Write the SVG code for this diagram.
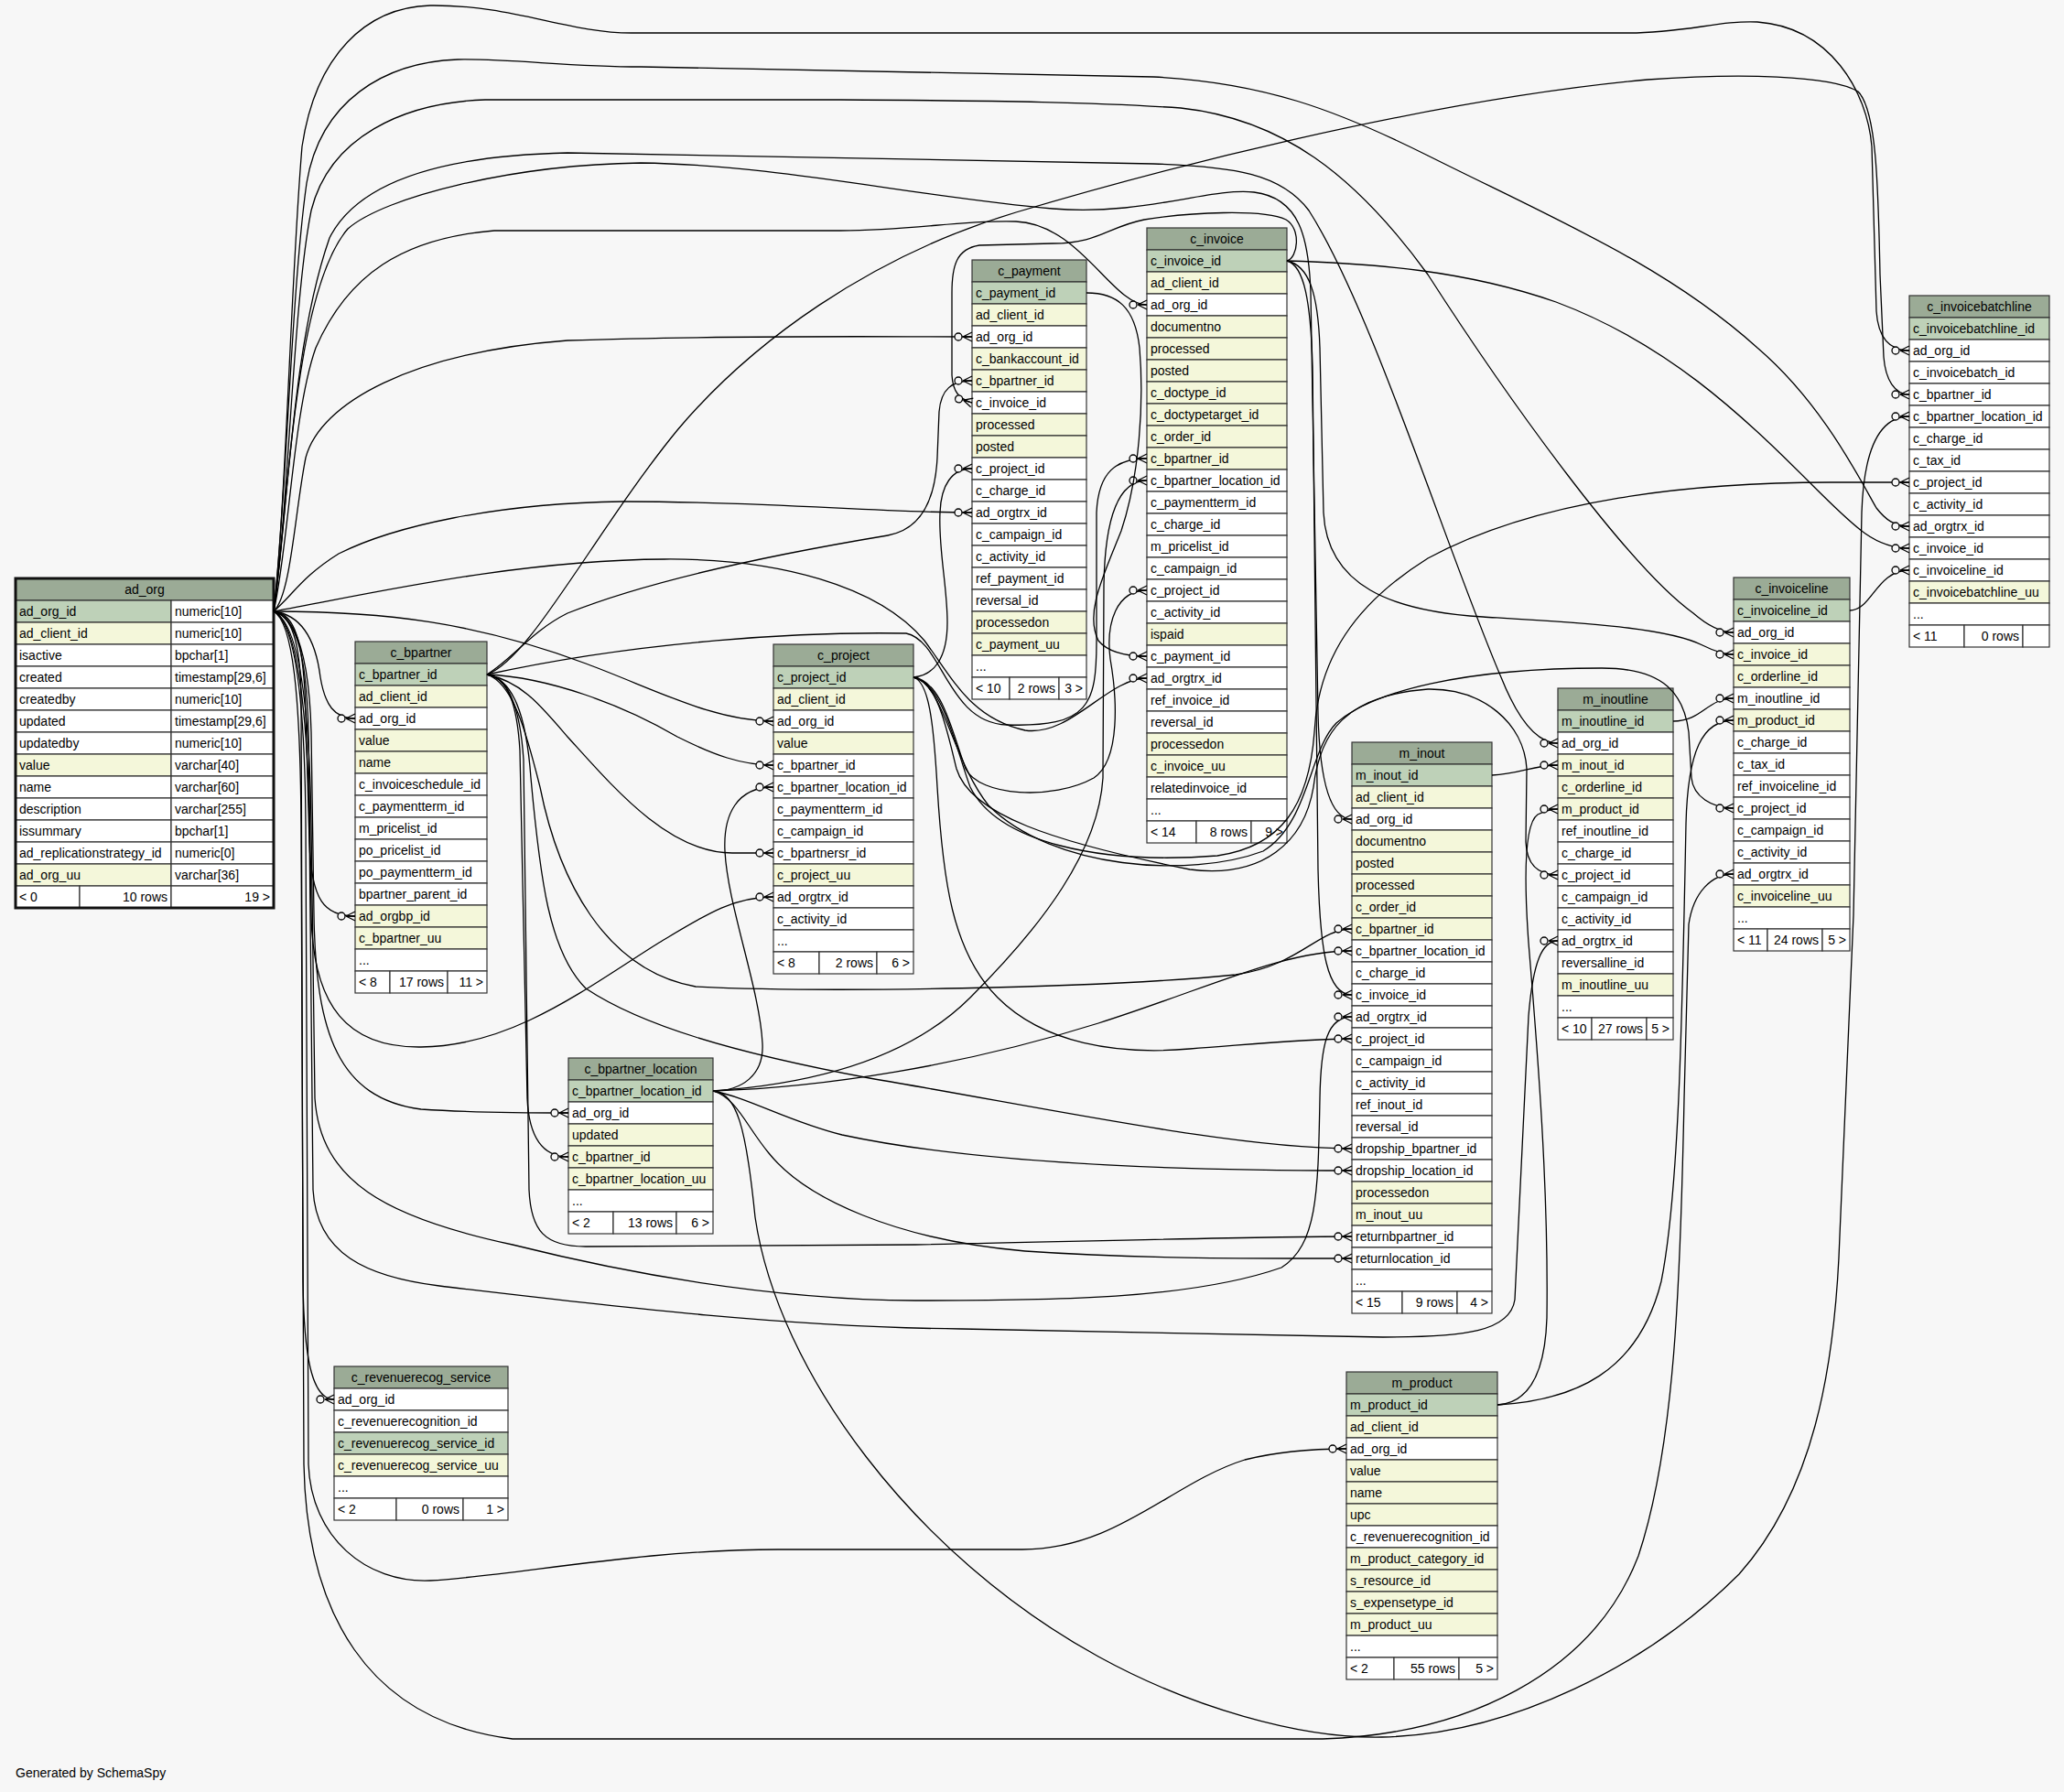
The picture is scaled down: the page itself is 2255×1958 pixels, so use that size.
<svg xmlns="http://www.w3.org/2000/svg" width="2255" height="1958" viewBox="0 0 2255 1958">
<defs>
<style>
text{font-family:"Liberation Sans",Arial,Helvetica,sans-serif;font-size:14px;fill:#000}
.c{text-anchor:middle}
.r{text-anchor:end}
.hd{fill:#9bab96;stroke:#333;stroke-width:1.2}
.pk{fill:#bed1b8;stroke:#333;stroke-width:1.2}
.ix{fill:#f4f7da;stroke:#333;stroke-width:1.2}
.wh{fill:#ffffff;stroke:#333;stroke-width:1.2}
.e{fill:none;stroke:#000;stroke-width:1.3;marker-end:url(#crow)}
</style>
<marker id="crow" viewBox="-22 -8 24 16" refX="0" refY="0" markerWidth="24" markerHeight="16" markerUnits="userSpaceOnUse" orient="auto">
<path d="M-10,0 L0,-5 M-10,0 L0,5 M-10,0 L0,0" fill="none" stroke="#000" stroke-width="1.3"/>
<circle cx="-15" cy="0" r="4" fill="#f7f7f7" stroke="#000" stroke-width="1.3"/>
</marker>
</defs>
<rect x="0" y="0" width="2255" height="1958" fill="#f7f7f7"/>

<g id="ad_org">
<rect class="hd" x="17" y="632" width="282" height="24"/><text class="c" x="158" y="649">ad_org</text>
<rect class="pk" x="17" y="656" width="170" height="24"/><rect class="wh" x="187" y="656" width="112" height="24"/><text x="21" y="673">ad_org_id</text><text x="191" y="673">numeric[10]</text>
<rect class="ix" x="17" y="680" width="170" height="24"/><rect class="wh" x="187" y="680" width="112" height="24"/><text x="21" y="697">ad_client_id</text><text x="191" y="697">numeric[10]</text>
<rect class="wh" x="17" y="704" width="170" height="24"/><rect class="wh" x="187" y="704" width="112" height="24"/><text x="21" y="721">isactive</text><text x="191" y="721">bpchar[1]</text>
<rect class="wh" x="17" y="728" width="170" height="24"/><rect class="wh" x="187" y="728" width="112" height="24"/><text x="21" y="745">created</text><text x="191" y="745">timestamp[29,6]</text>
<rect class="wh" x="17" y="752" width="170" height="24"/><rect class="wh" x="187" y="752" width="112" height="24"/><text x="21" y="769">createdby</text><text x="191" y="769">numeric[10]</text>
<rect class="wh" x="17" y="776" width="170" height="24"/><rect class="wh" x="187" y="776" width="112" height="24"/><text x="21" y="793">updated</text><text x="191" y="793">timestamp[29,6]</text>
<rect class="wh" x="17" y="800" width="170" height="24"/><rect class="wh" x="187" y="800" width="112" height="24"/><text x="21" y="817">updatedby</text><text x="191" y="817">numeric[10]</text>
<rect class="ix" x="17" y="824" width="170" height="24"/><rect class="wh" x="187" y="824" width="112" height="24"/><text x="21" y="841">value</text><text x="191" y="841">varchar[40]</text>
<rect class="wh" x="17" y="848" width="170" height="24"/><rect class="wh" x="187" y="848" width="112" height="24"/><text x="21" y="865">name</text><text x="191" y="865">varchar[60]</text>
<rect class="wh" x="17" y="872" width="170" height="24"/><rect class="wh" x="187" y="872" width="112" height="24"/><text x="21" y="889">description</text><text x="191" y="889">varchar[255]</text>
<rect class="wh" x="17" y="896" width="170" height="24"/><rect class="wh" x="187" y="896" width="112" height="24"/><text x="21" y="913">issummary</text><text x="191" y="913">bpchar[1]</text>
<rect class="wh" x="17" y="920" width="170" height="24"/><rect class="wh" x="187" y="920" width="112" height="24"/><text x="21" y="937">ad_replicationstrategy_id</text><text x="191" y="937">numeric[0]</text>
<rect class="ix" x="17" y="944" width="170" height="24"/><rect class="wh" x="187" y="944" width="112" height="24"/><text x="21" y="961">ad_org_uu</text><text x="191" y="961">varchar[36]</text>
<rect class="wh" x="17" y="968" width="70" height="24"/><rect class="wh" x="87" y="968" width="100" height="24"/><rect class="wh" x="187" y="968" width="112" height="24"/>
<text x="21" y="985">&lt; 0</text><text class="r" x="183" y="985">10 rows</text><text class="r" x="295" y="985">19 &gt;</text>
<rect x="17" y="632" width="282" height="360" fill="none" stroke="#111" stroke-width="3"/>
</g>

<g id="c_bpartner">
<rect class="hd" x="388" y="701" width="144" height="24"/><text class="c" x="460" y="718">c_bpartner</text>
<rect class="pk" x="388" y="725" width="144" height="24"/><text x="392" y="742">c_bpartner_id</text>
<rect class="ix" x="388" y="749" width="144" height="24"/><text x="392" y="766">ad_client_id</text>
<rect class="wh" x="388" y="773" width="144" height="24"/><text x="392" y="790">ad_org_id</text>
<rect class="ix" x="388" y="797" width="144" height="24"/><text x="392" y="814">value</text>
<rect class="ix" x="388" y="821" width="144" height="24"/><text x="392" y="838">name</text>
<rect class="wh" x="388" y="845" width="144" height="24"/><text x="392" y="862">c_invoiceschedule_id</text>
<rect class="wh" x="388" y="869" width="144" height="24"/><text x="392" y="886">c_paymentterm_id</text>
<rect class="wh" x="388" y="893" width="144" height="24"/><text x="392" y="910">m_pricelist_id</text>
<rect class="wh" x="388" y="917" width="144" height="24"/><text x="392" y="934">po_pricelist_id</text>
<rect class="wh" x="388" y="941" width="144" height="24"/><text x="392" y="958">po_paymentterm_id</text>
<rect class="wh" x="388" y="965" width="144" height="24"/><text x="392" y="982">bpartner_parent_id</text>
<rect class="ix" x="388" y="989" width="144" height="24"/><text x="392" y="1006">ad_orgbp_id</text>
<rect class="ix" x="388" y="1013" width="144" height="24"/><text x="392" y="1030">c_bpartner_uu</text>
<rect class="wh" x="388" y="1037" width="144" height="24"/><text x="392" y="1054">...</text>
<rect class="wh" x="388" y="1061" width="38" height="24"/><rect class="wh" x="426" y="1061" width="63" height="24"/><rect class="wh" x="489" y="1061" width="43" height="24"/>
<text x="392" y="1078">&lt; 8</text><text class="r" x="485" y="1078">17 rows</text><text class="r" x="528" y="1078">11 &gt;</text>
</g>

<g id="c_bpartner_location">
<rect class="hd" x="621" y="1156" width="158" height="24"/><text class="c" x="700" y="1173">c_bpartner_location</text>
<rect class="pk" x="621" y="1180" width="158" height="24"/><text x="625" y="1197">c_bpartner_location_id</text>
<rect class="wh" x="621" y="1204" width="158" height="24"/><text x="625" y="1221">ad_org_id</text>
<rect class="ix" x="621" y="1228" width="158" height="24"/><text x="625" y="1245">updated</text>
<rect class="ix" x="621" y="1252" width="158" height="24"/><text x="625" y="1269">c_bpartner_id</text>
<rect class="ix" x="621" y="1276" width="158" height="24"/><text x="625" y="1293">c_bpartner_location_uu</text>
<rect class="wh" x="621" y="1300" width="158" height="24"/><text x="625" y="1317">...</text>
<rect class="wh" x="621" y="1324" width="49" height="24"/><rect class="wh" x="670" y="1324" width="69" height="24"/><rect class="wh" x="739" y="1324" width="40" height="24"/>
<text x="625" y="1341">&lt; 2</text><text class="r" x="735" y="1341">13 rows</text><text class="r" x="775" y="1341">6 &gt;</text>
</g>

<g id="c_revenuerecog_service">
<rect class="hd" x="365" y="1493" width="190" height="24"/><text class="c" x="460" y="1510">c_revenuerecog_service</text>
<rect class="wh" x="365" y="1517" width="190" height="24"/><text x="369" y="1534">ad_org_id</text>
<rect class="wh" x="365" y="1541" width="190" height="24"/><text x="369" y="1558">c_revenuerecognition_id</text>
<rect class="pk" x="365" y="1565" width="190" height="24"/><text x="369" y="1582">c_revenuerecog_service_id</text>
<rect class="ix" x="365" y="1589" width="190" height="24"/><text x="369" y="1606">c_revenuerecog_service_uu</text>
<rect class="wh" x="365" y="1613" width="190" height="24"/><text x="369" y="1630">...</text>
<rect class="wh" x="365" y="1637" width="68" height="24"/><rect class="wh" x="433" y="1637" width="73" height="24"/><rect class="wh" x="506" y="1637" width="49" height="24"/>
<text x="369" y="1654">&lt; 2</text><text class="r" x="502" y="1654">0 rows</text><text class="r" x="551" y="1654">1 &gt;</text>
</g>

<g id="c_project">
<rect class="hd" x="845" y="704" width="153" height="24"/><text class="c" x="921.5" y="721">c_project</text>
<rect class="pk" x="845" y="728" width="153" height="24"/><text x="849" y="745">c_project_id</text>
<rect class="ix" x="845" y="752" width="153" height="24"/><text x="849" y="769">ad_client_id</text>
<rect class="wh" x="845" y="776" width="153" height="24"/><text x="849" y="793">ad_org_id</text>
<rect class="ix" x="845" y="800" width="153" height="24"/><text x="849" y="817">value</text>
<rect class="wh" x="845" y="824" width="153" height="24"/><text x="849" y="841">c_bpartner_id</text>
<rect class="wh" x="845" y="848" width="153" height="24"/><text x="849" y="865">c_bpartner_location_id</text>
<rect class="wh" x="845" y="872" width="153" height="24"/><text x="849" y="889">c_paymentterm_id</text>
<rect class="wh" x="845" y="896" width="153" height="24"/><text x="849" y="913">c_campaign_id</text>
<rect class="wh" x="845" y="920" width="153" height="24"/><text x="849" y="937">c_bpartnersr_id</text>
<rect class="ix" x="845" y="944" width="153" height="24"/><text x="849" y="961">c_project_uu</text>
<rect class="wh" x="845" y="968" width="153" height="24"/><text x="849" y="985">ad_orgtrx_id</text>
<rect class="wh" x="845" y="992" width="153" height="24"/><text x="849" y="1009">c_activity_id</text>
<rect class="wh" x="845" y="1016" width="153" height="24"/><text x="849" y="1033">...</text>
<rect class="wh" x="845" y="1040" width="50" height="24"/><rect class="wh" x="895" y="1040" width="63" height="24"/><rect class="wh" x="958" y="1040" width="40" height="24"/>
<text x="849" y="1057">&lt; 8</text><text class="r" x="954" y="1057">2 rows</text><text class="r" x="994" y="1057">6 &gt;</text>
</g>

<g id="c_payment">
<rect class="hd" x="1062" y="284" width="125" height="24"/><text class="c" x="1124.5" y="301">c_payment</text>
<rect class="pk" x="1062" y="308" width="125" height="24"/><text x="1066" y="325">c_payment_id</text>
<rect class="ix" x="1062" y="332" width="125" height="24"/><text x="1066" y="349">ad_client_id</text>
<rect class="wh" x="1062" y="356" width="125" height="24"/><text x="1066" y="373">ad_org_id</text>
<rect class="ix" x="1062" y="380" width="125" height="24"/><text x="1066" y="397">c_bankaccount_id</text>
<rect class="ix" x="1062" y="404" width="125" height="24"/><text x="1066" y="421">c_bpartner_id</text>
<rect class="wh" x="1062" y="428" width="125" height="24"/><text x="1066" y="445">c_invoice_id</text>
<rect class="ix" x="1062" y="452" width="125" height="24"/><text x="1066" y="469">processed</text>
<rect class="ix" x="1062" y="476" width="125" height="24"/><text x="1066" y="493">posted</text>
<rect class="wh" x="1062" y="500" width="125" height="24"/><text x="1066" y="517">c_project_id</text>
<rect class="wh" x="1062" y="524" width="125" height="24"/><text x="1066" y="541">c_charge_id</text>
<rect class="wh" x="1062" y="548" width="125" height="24"/><text x="1066" y="565">ad_orgtrx_id</text>
<rect class="wh" x="1062" y="572" width="125" height="24"/><text x="1066" y="589">c_campaign_id</text>
<rect class="wh" x="1062" y="596" width="125" height="24"/><text x="1066" y="613">c_activity_id</text>
<rect class="wh" x="1062" y="620" width="125" height="24"/><text x="1066" y="637">ref_payment_id</text>
<rect class="wh" x="1062" y="644" width="125" height="24"/><text x="1066" y="661">reversal_id</text>
<rect class="ix" x="1062" y="668" width="125" height="24"/><text x="1066" y="685">processedon</text>
<rect class="ix" x="1062" y="692" width="125" height="24"/><text x="1066" y="709">c_payment_uu</text>
<rect class="wh" x="1062" y="716" width="125" height="24"/><text x="1066" y="733">...</text>
<rect class="wh" x="1062" y="740" width="41" height="24"/><rect class="wh" x="1103" y="740" width="54" height="24"/><rect class="wh" x="1157" y="740" width="30" height="24"/>
<text x="1066" y="757">&lt; 10</text><text class="r" x="1153" y="757">2 rows</text><text class="r" x="1183" y="757">3 &gt;</text>
</g>

<g id="c_invoice">
<rect class="hd" x="1253" y="249" width="153" height="24"/><text class="c" x="1329.5" y="266">c_invoice</text>
<rect class="pk" x="1253" y="273" width="153" height="24"/><text x="1257" y="290">c_invoice_id</text>
<rect class="ix" x="1253" y="297" width="153" height="24"/><text x="1257" y="314">ad_client_id</text>
<rect class="wh" x="1253" y="321" width="153" height="24"/><text x="1257" y="338">ad_org_id</text>
<rect class="ix" x="1253" y="345" width="153" height="24"/><text x="1257" y="362">documentno</text>
<rect class="ix" x="1253" y="369" width="153" height="24"/><text x="1257" y="386">processed</text>
<rect class="ix" x="1253" y="393" width="153" height="24"/><text x="1257" y="410">posted</text>
<rect class="ix" x="1253" y="417" width="153" height="24"/><text x="1257" y="434">c_doctype_id</text>
<rect class="ix" x="1253" y="441" width="153" height="24"/><text x="1257" y="458">c_doctypetarget_id</text>
<rect class="ix" x="1253" y="465" width="153" height="24"/><text x="1257" y="482">c_order_id</text>
<rect class="ix" x="1253" y="489" width="153" height="24"/><text x="1257" y="506">c_bpartner_id</text>
<rect class="wh" x="1253" y="513" width="153" height="24"/><text x="1257" y="530">c_bpartner_location_id</text>
<rect class="wh" x="1253" y="537" width="153" height="24"/><text x="1257" y="554">c_paymentterm_id</text>
<rect class="wh" x="1253" y="561" width="153" height="24"/><text x="1257" y="578">c_charge_id</text>
<rect class="wh" x="1253" y="585" width="153" height="24"/><text x="1257" y="602">m_pricelist_id</text>
<rect class="wh" x="1253" y="609" width="153" height="24"/><text x="1257" y="626">c_campaign_id</text>
<rect class="wh" x="1253" y="633" width="153" height="24"/><text x="1257" y="650">c_project_id</text>
<rect class="wh" x="1253" y="657" width="153" height="24"/><text x="1257" y="674">c_activity_id</text>
<rect class="ix" x="1253" y="681" width="153" height="24"/><text x="1257" y="698">ispaid</text>
<rect class="wh" x="1253" y="705" width="153" height="24"/><text x="1257" y="722">c_payment_id</text>
<rect class="wh" x="1253" y="729" width="153" height="24"/><text x="1257" y="746">ad_orgtrx_id</text>
<rect class="wh" x="1253" y="753" width="153" height="24"/><text x="1257" y="770">ref_invoice_id</text>
<rect class="wh" x="1253" y="777" width="153" height="24"/><text x="1257" y="794">reversal_id</text>
<rect class="ix" x="1253" y="801" width="153" height="24"/><text x="1257" y="818">processedon</text>
<rect class="ix" x="1253" y="825" width="153" height="24"/><text x="1257" y="842">c_invoice_uu</text>
<rect class="wh" x="1253" y="849" width="153" height="24"/><text x="1257" y="866">relatedinvoice_id</text>
<rect class="wh" x="1253" y="873" width="153" height="24"/><text x="1257" y="890">...</text>
<rect class="wh" x="1253" y="897" width="54" height="24"/><rect class="wh" x="1307" y="897" width="60" height="24"/><rect class="wh" x="1367" y="897" width="39" height="24"/>
<text x="1257" y="914">&lt; 14</text><text class="r" x="1363" y="914">8 rows</text><text class="r" x="1402" y="914">9 &gt;</text>
</g>

<g id="m_inout">
<rect class="hd" x="1477" y="811" width="153" height="24"/><text class="c" x="1553.5" y="828">m_inout</text>
<rect class="pk" x="1477" y="835" width="153" height="24"/><text x="1481" y="852">m_inout_id</text>
<rect class="ix" x="1477" y="859" width="153" height="24"/><text x="1481" y="876">ad_client_id</text>
<rect class="wh" x="1477" y="883" width="153" height="24"/><text x="1481" y="900">ad_org_id</text>
<rect class="ix" x="1477" y="907" width="153" height="24"/><text x="1481" y="924">documentno</text>
<rect class="ix" x="1477" y="931" width="153" height="24"/><text x="1481" y="948">posted</text>
<rect class="ix" x="1477" y="955" width="153" height="24"/><text x="1481" y="972">processed</text>
<rect class="ix" x="1477" y="979" width="153" height="24"/><text x="1481" y="996">c_order_id</text>
<rect class="ix" x="1477" y="1003" width="153" height="24"/><text x="1481" y="1020">c_bpartner_id</text>
<rect class="wh" x="1477" y="1027" width="153" height="24"/><text x="1481" y="1044">c_bpartner_location_id</text>
<rect class="wh" x="1477" y="1051" width="153" height="24"/><text x="1481" y="1068">c_charge_id</text>
<rect class="wh" x="1477" y="1075" width="153" height="24"/><text x="1481" y="1092">c_invoice_id</text>
<rect class="wh" x="1477" y="1099" width="153" height="24"/><text x="1481" y="1116">ad_orgtrx_id</text>
<rect class="wh" x="1477" y="1123" width="153" height="24"/><text x="1481" y="1140">c_project_id</text>
<rect class="wh" x="1477" y="1147" width="153" height="24"/><text x="1481" y="1164">c_campaign_id</text>
<rect class="wh" x="1477" y="1171" width="153" height="24"/><text x="1481" y="1188">c_activity_id</text>
<rect class="wh" x="1477" y="1195" width="153" height="24"/><text x="1481" y="1212">ref_inout_id</text>
<rect class="wh" x="1477" y="1219" width="153" height="24"/><text x="1481" y="1236">reversal_id</text>
<rect class="wh" x="1477" y="1243" width="153" height="24"/><text x="1481" y="1260">dropship_bpartner_id</text>
<rect class="wh" x="1477" y="1267" width="153" height="24"/><text x="1481" y="1284">dropship_location_id</text>
<rect class="ix" x="1477" y="1291" width="153" height="24"/><text x="1481" y="1308">processedon</text>
<rect class="ix" x="1477" y="1315" width="153" height="24"/><text x="1481" y="1332">m_inout_uu</text>
<rect class="wh" x="1477" y="1339" width="153" height="24"/><text x="1481" y="1356">returnbpartner_id</text>
<rect class="wh" x="1477" y="1363" width="153" height="24"/><text x="1481" y="1380">returnlocation_id</text>
<rect class="wh" x="1477" y="1387" width="153" height="24"/><text x="1481" y="1404">...</text>
<rect class="wh" x="1477" y="1411" width="55" height="24"/><rect class="wh" x="1532" y="1411" width="60" height="24"/><rect class="wh" x="1592" y="1411" width="38" height="24"/>
<text x="1481" y="1428">&lt; 15</text><text class="r" x="1588" y="1428">9 rows</text><text class="r" x="1626" y="1428">4 &gt;</text>
</g>

<g id="m_product">
<rect class="hd" x="1471" y="1499" width="165" height="24"/><text class="c" x="1553.5" y="1516">m_product</text>
<rect class="pk" x="1471" y="1523" width="165" height="24"/><text x="1475" y="1540">m_product_id</text>
<rect class="ix" x="1471" y="1547" width="165" height="24"/><text x="1475" y="1564">ad_client_id</text>
<rect class="wh" x="1471" y="1571" width="165" height="24"/><text x="1475" y="1588">ad_org_id</text>
<rect class="ix" x="1471" y="1595" width="165" height="24"/><text x="1475" y="1612">value</text>
<rect class="ix" x="1471" y="1619" width="165" height="24"/><text x="1475" y="1636">name</text>
<rect class="ix" x="1471" y="1643" width="165" height="24"/><text x="1475" y="1660">upc</text>
<rect class="wh" x="1471" y="1667" width="165" height="24"/><text x="1475" y="1684">c_revenuerecognition_id</text>
<rect class="ix" x="1471" y="1691" width="165" height="24"/><text x="1475" y="1708">m_product_category_id</text>
<rect class="ix" x="1471" y="1715" width="165" height="24"/><text x="1475" y="1732">s_resource_id</text>
<rect class="ix" x="1471" y="1739" width="165" height="24"/><text x="1475" y="1756">s_expensetype_id</text>
<rect class="ix" x="1471" y="1763" width="165" height="24"/><text x="1475" y="1780">m_product_uu</text>
<rect class="wh" x="1471" y="1787" width="165" height="24"/><text x="1475" y="1804">...</text>
<rect class="wh" x="1471" y="1811" width="52" height="24"/><rect class="wh" x="1523" y="1811" width="71" height="24"/><rect class="wh" x="1594" y="1811" width="42" height="24"/>
<text x="1475" y="1828">&lt; 2</text><text class="r" x="1590" y="1828">55 rows</text><text class="r" x="1632" y="1828">5 &gt;</text>
</g>

<g id="m_inoutline">
<rect class="hd" x="1702" y="752" width="126" height="24"/><text class="c" x="1765" y="769">m_inoutline</text>
<rect class="pk" x="1702" y="776" width="126" height="24"/><text x="1706" y="793">m_inoutline_id</text>
<rect class="wh" x="1702" y="800" width="126" height="24"/><text x="1706" y="817">ad_org_id</text>
<rect class="ix" x="1702" y="824" width="126" height="24"/><text x="1706" y="841">m_inout_id</text>
<rect class="ix" x="1702" y="848" width="126" height="24"/><text x="1706" y="865">c_orderline_id</text>
<rect class="ix" x="1702" y="872" width="126" height="24"/><text x="1706" y="889">m_product_id</text>
<rect class="wh" x="1702" y="896" width="126" height="24"/><text x="1706" y="913">ref_inoutline_id</text>
<rect class="wh" x="1702" y="920" width="126" height="24"/><text x="1706" y="937">c_charge_id</text>
<rect class="wh" x="1702" y="944" width="126" height="24"/><text x="1706" y="961">c_project_id</text>
<rect class="wh" x="1702" y="968" width="126" height="24"/><text x="1706" y="985">c_campaign_id</text>
<rect class="wh" x="1702" y="992" width="126" height="24"/><text x="1706" y="1009">c_activity_id</text>
<rect class="wh" x="1702" y="1016" width="126" height="24"/><text x="1706" y="1033">ad_orgtrx_id</text>
<rect class="wh" x="1702" y="1040" width="126" height="24"/><text x="1706" y="1057">reversalline_id</text>
<rect class="ix" x="1702" y="1064" width="126" height="24"/><text x="1706" y="1081">m_inoutline_uu</text>
<rect class="wh" x="1702" y="1088" width="126" height="24"/><text x="1706" y="1105">...</text>
<rect class="wh" x="1702" y="1112" width="37" height="24"/><rect class="wh" x="1739" y="1112" width="60" height="24"/><rect class="wh" x="1799" y="1112" width="29" height="24"/>
<text x="1706" y="1129">&lt; 10</text><text class="r" x="1795" y="1129">27 rows</text><text class="r" x="1824" y="1129">5 &gt;</text>
</g>

<g id="c_invoiceline">
<rect class="hd" x="1894" y="631" width="127" height="24"/><text class="c" x="1957.5" y="648">c_invoiceline</text>
<rect class="pk" x="1894" y="655" width="127" height="24"/><text x="1898" y="672">c_invoiceline_id</text>
<rect class="wh" x="1894" y="679" width="127" height="24"/><text x="1898" y="696">ad_org_id</text>
<rect class="ix" x="1894" y="703" width="127" height="24"/><text x="1898" y="720">c_invoice_id</text>
<rect class="ix" x="1894" y="727" width="127" height="24"/><text x="1898" y="744">c_orderline_id</text>
<rect class="wh" x="1894" y="751" width="127" height="24"/><text x="1898" y="768">m_inoutline_id</text>
<rect class="ix" x="1894" y="775" width="127" height="24"/><text x="1898" y="792">m_product_id</text>
<rect class="wh" x="1894" y="799" width="127" height="24"/><text x="1898" y="816">c_charge_id</text>
<rect class="wh" x="1894" y="823" width="127" height="24"/><text x="1898" y="840">c_tax_id</text>
<rect class="wh" x="1894" y="847" width="127" height="24"/><text x="1898" y="864">ref_invoiceline_id</text>
<rect class="wh" x="1894" y="871" width="127" height="24"/><text x="1898" y="888">c_project_id</text>
<rect class="wh" x="1894" y="895" width="127" height="24"/><text x="1898" y="912">c_campaign_id</text>
<rect class="wh" x="1894" y="919" width="127" height="24"/><text x="1898" y="936">c_activity_id</text>
<rect class="wh" x="1894" y="943" width="127" height="24"/><text x="1898" y="960">ad_orgtrx_id</text>
<rect class="ix" x="1894" y="967" width="127" height="24"/><text x="1898" y="984">c_invoiceline_uu</text>
<rect class="wh" x="1894" y="991" width="127" height="24"/><text x="1898" y="1008">...</text>
<rect class="wh" x="1894" y="1015" width="37" height="24"/><rect class="wh" x="1931" y="1015" width="60" height="24"/><rect class="wh" x="1991" y="1015" width="30" height="24"/>
<text x="1898" y="1032">&lt; 11</text><text class="r" x="1987" y="1032">24 rows</text><text class="r" x="2017" y="1032">5 &gt;</text>
</g>

<g id="c_invoicebatchline">
<rect class="hd" x="2086" y="323" width="153" height="24"/><text class="c" x="2162.5" y="340">c_invoicebatchline</text>
<rect class="pk" x="2086" y="347" width="153" height="24"/><text x="2090" y="364">c_invoicebatchline_id</text>
<rect class="wh" x="2086" y="371" width="153" height="24"/><text x="2090" y="388">ad_org_id</text>
<rect class="wh" x="2086" y="395" width="153" height="24"/><text x="2090" y="412">c_invoicebatch_id</text>
<rect class="wh" x="2086" y="419" width="153" height="24"/><text x="2090" y="436">c_bpartner_id</text>
<rect class="wh" x="2086" y="443" width="153" height="24"/><text x="2090" y="460">c_bpartner_location_id</text>
<rect class="wh" x="2086" y="467" width="153" height="24"/><text x="2090" y="484">c_charge_id</text>
<rect class="wh" x="2086" y="491" width="153" height="24"/><text x="2090" y="508">c_tax_id</text>
<rect class="wh" x="2086" y="515" width="153" height="24"/><text x="2090" y="532">c_project_id</text>
<rect class="wh" x="2086" y="539" width="153" height="24"/><text x="2090" y="556">c_activity_id</text>
<rect class="wh" x="2086" y="563" width="153" height="24"/><text x="2090" y="580">ad_orgtrx_id</text>
<rect class="wh" x="2086" y="587" width="153" height="24"/><text x="2090" y="604">c_invoice_id</text>
<rect class="wh" x="2086" y="611" width="153" height="24"/><text x="2090" y="628">c_invoiceline_id</text>
<rect class="ix" x="2086" y="635" width="153" height="24"/><text x="2090" y="652">c_invoicebatchline_uu</text>
<rect class="wh" x="2086" y="659" width="153" height="24"/><text x="2090" y="676">...</text>
<rect class="wh" x="2086" y="683" width="60" height="24"/><rect class="wh" x="2146" y="683" width="64" height="24"/><rect class="wh" x="2210" y="683" width="29" height="24"/>
<text x="2090" y="700">&lt; 11</text><text class="r" x="2206" y="700">0 rows</text>
</g>

<g id="connectors">
<path class="e" d="M299,668 C330,672 345,700 350,740 C355,770 365,785 388,785"/>
<path class="e" d="M299,668 C322,670 332,700 334,780 L338,920 C340,985 355,1001 388,1001"/>
<path class="e" d="M299,668 C324,674 338,720 340,800 L343,1000 C345,1130 370,1200 460,1212 C520,1216 580,1216 621,1216"/>
<path class="e" d="M299,668 C318,672 328,700 329,760 L331,1400 C332,1480 340,1529 365,1529"/>
<path class="e" d="M299,668 C420,668 520,680 640,725 C720,755 780,788 845,788"/>
<path class="e" d="M299,668 C325,675 335,720 337,800 L340,1000 C342,1100 380,1145 460,1144 C560,1143 640,1080 720,1030 C770,1000 800,980 845,980"/>
<path class="e" d="M299,668 C318,650 322,560 334,500 C350,440 450,385 620,372 C800,366 950,368 1062,368"/>
<path class="e" d="M299,668 C320,650 330,630 370,605 C430,575 540,550 680,548 C850,548 950,560 1062,560"/>
<path class="e" d="M299,668 C315,600 320,450 345,380 C380,300 440,260 540,252 L918,252 C1000,252 1050,240 1110,242 C1180,245 1215,333 1253,333"/>
<path class="e" d="M299,668 C400,650 560,612 726,611 C850,610 960,640 1010,700 C1040,740 1060,785 1120,798 C1170,805 1210,741 1253,741"/>
<path class="e" d="M299,668 C315,560 320,320 380,250 C420,215 560,180 700,178 C850,180 1000,215 1150,228 C1250,236 1320,205 1370,210 C1420,216 1430,260 1432,320 L1440,780 C1442,860 1455,895 1477,895"/>
<path class="e" d="M299,668 C325,680 338,760 340,900 L344,1200 C350,1290 420,1330 560,1360 C700,1395 850,1420 1000,1421 C1150,1421 1300,1420 1400,1385 C1440,1360 1440,1300 1442,1200 C1443,1140 1450,1111 1477,1111"/>
<path class="e" d="M299,668 C322,680 333,760 334,900 L337,1600 C340,1680 400,1730 470,1727 C560,1722 700,1693 850,1693 L1117,1693 C1220,1693 1280,1620 1360,1595 C1400,1585 1440,1583 1471,1583"/>
<path class="e" d="M299,668 C315,560 318,380 360,260 C390,200 480,170 620,167 L1260,179 C1350,182 1400,190 1430,230 C1500,340 1580,600 1640,740 C1660,790 1680,812 1702,812"/>
<path class="e" d="M299,668 C325,680 336,780 338,900 L342,1300 C346,1370 400,1395 480,1405 C650,1425 850,1450 1050,1452 L1511,1461 C1600,1461 1650,1455 1655,1420 L1670,1110 C1675,1050 1685,1028 1702,1028"/>
<path class="e" d="M299,668 C315,560 320,330 340,230 C360,150 440,112 530,109 L918,109 C1100,110 1200,112 1290,118 C1400,130 1480,190 1560,300 C1650,440 1780,620 1850,670 C1865,683 1880,691 1894,691"/>
<path class="e" d="M299,668 C320,680 328,760 329,900 L332,1600 C335,1760 400,1880 560,1900 L1445,1900 C1600,1895 1740,1830 1790,1700 C1830,1580 1836,1400 1840,1200 L1845,1010 C1850,975 1870,955 1894,955"/>
<path class="e" d="M299,668 C312,560 318,300 330,160 C345,60 400,8 470,6 C560,5 620,36 690,36 L1780,36 C1840,36 1880,22 1920,24 C2000,30 2040,100 2045,160 L2050,340 C2052,370 2065,383 2086,383"/>
<path class="e" d="M299,668 C312,560 318,320 335,200 C350,110 420,68 500,65 C560,64 620,73 700,73 L1260,84 C1380,90 1460,120 1560,170 C1700,240 1820,290 1920,380 C1990,440 2030,520 2050,555 C2060,568 2070,575 2086,575"/>
<path class="e" d="M532,737 C555,740 565,770 568,820 L576,1200 C578,1245 595,1264 621,1264"/>
<path class="e" d="M532,737 C600,740 680,770 740,805 C780,825 810,836 845,836"/>
<path class="e" d="M532,737 C570,745 590,770 620,805 C670,860 730,932 800,932 L845,932"/>
<path class="e" d="M532,737 C560,720 580,690 620,670 C720,630 880,600 970,585 C1010,578 1022,540 1024,500 L1026,450 C1028,425 1040,416 1062,416"/>
<path class="e" d="M532,737 C700,700 880,690 990,692 C1030,700 1035,790 1100,792 C1190,795 1198,770 1198,700 L1198,560 C1200,515 1220,501 1253,501"/>
<path class="e" d="M532,737 C560,745 575,800 590,860 C610,960 660,1060 760,1078 C900,1085 1200,1080 1350,1065 C1420,1055 1440,1015 1477,1015"/>
<path class="e" d="M532,737 C560,742 575,780 580,850 C590,960 600,1040 640,1080 C700,1120 800,1150 950,1178 C1150,1212 1350,1255 1477,1255"/>
<path class="e" d="M532,737 C555,740 568,770 572,830 L578,1300 C580,1345 595,1362 640,1362 L1000,1360 C1200,1356 1380,1351 1477,1351"/>
<path class="e" d="M532,737 C580,720 650,580 740,470 C820,375 950,280 1110,232 C1250,190 1550,110 1800,87 C1900,80 2000,82 2030,100 C2050,120 2052,200 2054,300 L2058,390 C2060,415 2070,431 2086,431"/>
<path class="e" d="M779,1192 C810,1192 835,1175 833,1140 C830,1080 795,990 792,930 C790,890 805,860 845,860"/>
<path class="e" d="M779,1192 C880,1185 990,1160 1060,1090 C1140,1010 1200,930 1205,850 L1206,640 C1207,570 1220,525 1253,525"/>
<path class="e" d="M779,1192 C900,1188 1050,1165 1200,1118 C1320,1080 1400,1039 1477,1039"/>
<path class="e" d="M779,1192 C820,1200 860,1225 920,1240 C1050,1268 1250,1279 1477,1279"/>
<path class="e" d="M779,1192 C805,1200 815,1230 840,1260 C880,1310 980,1355 1120,1367 C1250,1376 1380,1375 1477,1375"/>
<path class="e" d="M779,1192 C805,1195 815,1230 825,1330 C850,1500 1000,1700 1200,1810 C1300,1865 1420,1900 1510,1898 C1650,1895 1800,1820 1900,1720 C1980,1630 2005,1500 2010,1350 L2025,1000 L2034,560 C2036,500 2050,455 2086,455"/>
<path class="e" d="M998,740 C1020,738 1035,720 1035,680 C1035,640 1025,600 1027,560 C1028,530 1040,512 1062,512"/>
<path class="e" d="M998,740 C1030,745 1040,800 1055,840 C1070,870 1150,875 1195,850 C1225,830 1220,760 1213,720 C1208,680 1220,645 1253,645"/>
<path class="e" d="M998,740 C1015,745 1020,790 1024,860 C1030,960 1040,1040 1090,1090 C1140,1140 1220,1153 1300,1146 C1380,1140 1430,1135 1477,1135"/>
<path class="e" d="M998,740 C1025,745 1035,800 1045,840 C1060,890 1150,920 1300,950 C1380,960 1425,920 1435,860 C1442,800 1470,760 1560,753 C1620,752 1665,790 1668,840 L1667,920 C1668,945 1680,956 1702,956"/>
<path class="e" d="M998,740 C1030,745 1040,830 1080,880 C1150,950 1300,960 1380,930 C1430,900 1430,820 1460,790 C1500,755 1600,730 1750,730 C1820,730 1840,760 1845,800 L1848,850 C1850,870 1870,883 1894,883"/>
<path class="e" d="M998,740 C1030,745 1045,820 1060,860 C1090,920 1200,945 1330,935 C1400,925 1430,880 1436,800 C1440,720 1480,660 1560,610 C1680,545 1850,527 2000,527 L2086,527"/>
<path class="e" d="M1187,320 C1220,320 1240,335 1245,380 C1250,440 1245,520 1225,580 C1205,630 1185,670 1200,700 C1210,712 1230,717 1253,717"/>
<path class="e" d="M1406,285 C1418,282 1422,250 1405,240 C1380,228 1300,232 1250,240 C1210,248 1200,266 1150,266 L1070,268 C1045,272 1040,290 1040,320 L1040,410 C1041,428 1048,436 1062,440"/>
<path class="e" d="M1406,285 C1425,290 1432,330 1434,400 L1440,950 C1442,1040 1450,1087 1477,1087"/>
<path class="e" d="M1406,285 C1430,290 1440,320 1442,380 L1446,560 C1450,640 1520,668 1620,674 C1720,680 1820,685 1860,705 C1872,711 1882,715 1894,715"/>
<path class="e" d="M1406,285 C1500,288 1600,295 1700,330 C1820,375 1900,450 1980,530 C2030,580 2050,599 2086,599"/>
<path class="e" d="M1630,847 C1660,846 1675,836 1702,836"/>
<path class="e" d="M1828,788 C1860,788 1865,763 1894,763"/>
<path class="e" d="M1636,1535 C1670,1533 1688,1500 1690,1440 C1692,1300 1680,1150 1670,1030 C1665,960 1665,900 1680,890 C1688,886 1695,884 1702,884"/>
<path class="e" d="M1636,1535 C1720,1530 1790,1500 1815,1400 C1835,1300 1838,1100 1842,900 C1844,820 1860,787 1894,787"/>
<path class="e" d="M2021,667 C2045,667 2050,623 2086,623"/>
</g>

<text x="17" y="1942">Generated by SchemaSpy</text>
</svg>
